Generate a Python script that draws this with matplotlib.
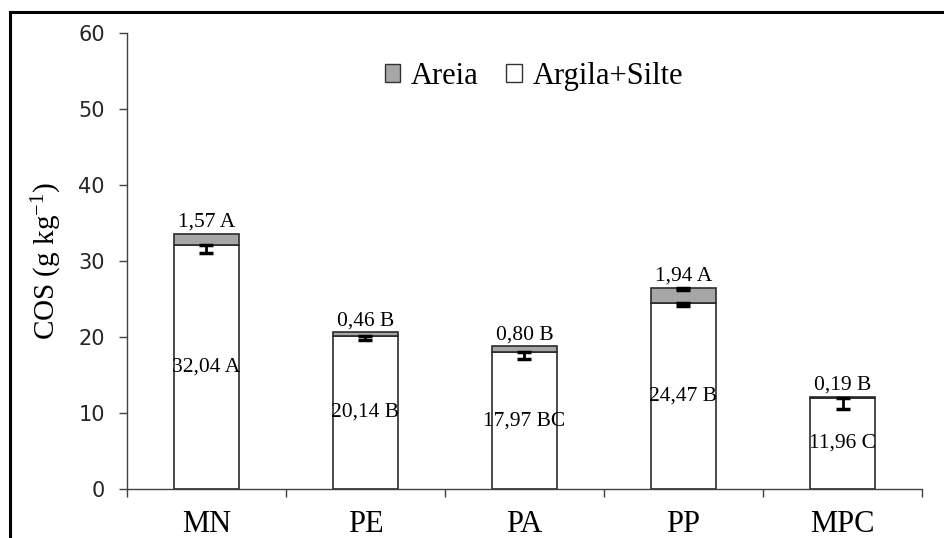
import matplotlib
matplotlib.use("Agg")
import matplotlib.pyplot as plt
import numpy as np
from matplotlib.patches import Patch
from matplotlib.lines import Line2D

categories = ["MN", "PE", "PA", "PP", "MPC"]
argila_silte = [32.04, 20.14, 17.97, 24.47, 11.96]
areia = [1.57, 0.46, 0.80, 1.94, 0.19]
argila_err = [1.0, 0.55, 0.9, 0.35, 1.45]
areia_err = [0.0, 0.0, 0.0, 0.2, 0.0]
argila_labels = ["32,04 A", "20,14 B", "17,97 BC", "24,47 B", "11,96 C"]
areia_labels = ["1,57 A", "0,46 B", "0,80 B", "1,94 A", "0,19 B"]
yticks = [0, 10, 20, 30, 40, 50, 60]

serif = "Liberation Serif"
gray = "#a6a6a6"
edge = "#2b2b2b"

plt.rcParams["mathtext.fontset"] = "custom"
plt.rcParams["mathtext.rm"] = serif
plt.rcParams["mathtext.it"] = serif

fig = plt.figure(figsize=(9.44, 5.38), dpi=100)
ax = fig.add_axes([0.1345, 0.0911, 0.8422, 0.8476])

x = np.arange(len(categories))
w = 0.41
ax.bar(x, argila_silte, width=w, color="white", edgecolor=edge, linewidth=1.2, zorder=2)
ax.bar(x, areia, width=w, bottom=argila_silte, color=gray, edgecolor=edge, linewidth=1.2, zorder=2)

ax.errorbar(x, argila_silte, yerr=[argila_err, [0] * len(x)], fmt="none",
            ecolor="black", elinewidth=2, capsize=5, capthick=2.5, zorder=3)
tot = [a + b for a, b in zip(argila_silte, areia)]
mask = [e > 0 for e in areia_err]
xe = [xi for xi, m in zip(x, mask) if m]
te = [t for t, m in zip(tot, mask) if m]
ee = [e for e, m in zip(areia_err, mask) if m]
ax.errorbar(xe, te, yerr=[ee, [0] * len(xe)], fmt="none",
            ecolor="black", elinewidth=2, capsize=5, capthick=2.5, zorder=3)

for xi, v, lab in zip(x, argila_silte, argila_labels):
    ax.text(xi, v / 2, lab, ha="center", va="center", fontsize=15.5,
            family=serif, color="black", zorder=4)
for xi, t, lab in zip(x, tot, areia_labels):
    ax.text(xi, t + 0.3, lab, ha="center", va="bottom", fontsize=15.5,
            family=serif, color="black", zorder=4)

ax.set_xlim(-0.5, len(categories) - 0.5)
ax.set_ylim(0, 60)
ax.set_yticks(yticks)
ax.tick_params(axis="y", direction="out", length=6, width=1, color="#404040",
               labelsize=15, labelcolor="#262626", pad=10)
for t in ax.get_yticklabels():
    t.set_family("DejaVu Sans")
ax.set_xticks(x)
ax.set_xticklabels(categories, family=serif, fontsize=22)
ax.set_xticks(np.arange(-0.5, len(categories)), minor=True)
ax.tick_params(axis="x", which="major", length=0, pad=15)
ax.tick_params(axis="x", which="minor", direction="out", length=6, width=1, color="#404040")

for s in ["top", "right"]:
    ax.spines[s].set_visible(False)
for s in ["left", "bottom"]:
    ax.spines[s].set_color("#404040")
    ax.spines[s].set_linewidth(1)

ax.set_ylabel("COS (g kg$^{\\mathregular{-1}}$)", family=serif, fontsize=21, labelpad=10)

handles = [Patch(facecolor=gray, edgecolor="#333333", linewidth=1),
           Patch(facecolor="white", edgecolor="#333333", linewidth=1)]
leg = ax.legend(handles, ["Areia", "Argila+Silte"], loc="center",
                bbox_to_anchor=(0.512, 0.905), ncol=2, frameon=False,
                prop={"family": serif, "size": 22}, handlelength=0.5,
                handleheight=0.5, handletextpad=0.35, columnspacing=0.9)

# figure frame (left and top lines)
fig.add_artist(Line2D([10 / 944, 10 / 944], [0, 1 - 12 / 538], transform=fig.transFigure,
                      color="black", linewidth=2.2))
fig.add_artist(Line2D([10 / 944, 1], [1 - 12 / 538, 1 - 12 / 538], transform=fig.transFigure,
                      color="black", linewidth=2.2))

fig.savefig("out.png", dpi=100)
